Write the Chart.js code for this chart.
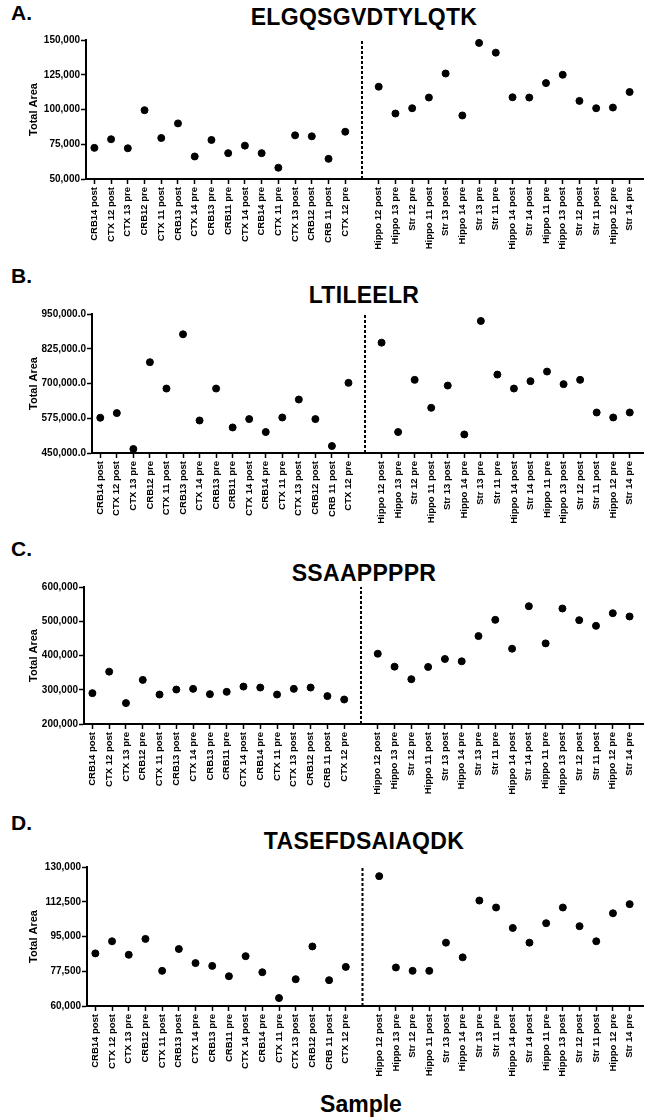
<!DOCTYPE html>
<html>
<head>
<meta charset="utf-8">
<script src="https://cdn.jsdelivr.net/npm/chart.js@4.4.0/dist/chart.umd.min.js"></script>
<style>
  body { margin: 0; background: #fff; font-family: "Liberation Sans", Arial, sans-serif; color: #000; }
  #page { position: relative; width: 649px; height: 1120px; overflow: hidden; background: #fff; }
  canvas { position: absolute; left: 0; }
  .lettre { position: absolute; left: 11px; font-size: 21px; line-height: 21px; font-weight: bold; }
  .titre { position: absolute; left: 0; width: 728px; text-align: center; font-size: 23px; line-height: 23px; font-weight: bold; letter-spacing: 0.3px; }
  .sample { position: absolute; left: 0; width: 722px; text-align: center; font-size: 23px; line-height: 23px; font-weight: bold; }
</style>
</head>
<body>
<div id="page">
  <div class="lettre" style="top:2px">A.</div>
  <div class="titre" style="top:6px">ELGQSGVDTYLQTK</div>
  <canvas id="chartA"></canvas>

  <div class="lettre" style="top:265px">B.</div>
  <div class="titre" style="top:284px">LTILEELR</div>
  <canvas id="chartB"></canvas>

  <div class="lettre" style="top:538px">C.</div>
  <div class="titre" style="top:562px">SSAAPPPPR</div>
  <canvas id="chartC"></canvas>

  <div class="lettre" style="top:812px">D.</div>
  <div class="titre" style="top:830px">TASEFDSAIAQDK</div>
  <canvas id="chartD"></canvas>

  <div class="sample" style="top:1093px">Sample</div>
</div>
<script>
// noms des échantillons (gauche / droite de la ligne pointillée)
const sampleLeft = ['CRB14 post', 'CTX 12 post', 'CTX 13 pre', 'CRB12 pre', 'CTX 11 post', 'CRB13 post', 'CTX 14 pre', 'CRB13 pre',
    'CRB11 pre', 'CTX 14 post', 'CRB14 pre', 'CTX 11 pre', 'CTX 13 post', 'CRB12 post', 'CRB 11 post', 'CTX 12 pre'];
const sampleRight = ['Hippo 12 post', 'Hippo 13 pre', 'Str 12 pre', 'Hippo 11 post', 'Str 13 post', 'Hippo 14 pre', 'Str 13 pre', 'Str 11 pre',
    'Hippo 14 post', 'Str 14 post', 'Hippo 11 pre', 'Hippo 13 post', 'Str 12 post', 'Str 11 post', 'Hippo 12 pre', 'Str 14 pre'];

// Total Area par peptide, dans l'ordre sampleLeft puis sampleRight
const elgqsgvdtylqtk = [72400, 78600, 72100, 99500, 79500, 90000, 66200, 78100, 68600, 74000, 68600, 58100, 81400, 80700, 64500, 84000,
    116400, 97100, 100900, 108600, 125900, 95700, 147900, 140900, 108800, 108600, 119000, 125000, 106200, 100900, 101400, 112600];
const ltileelr = [576700, 593600, 464400, 776600, 681900, 877000, 567000, 681900, 541900, 572000, 525400, 577800, 642400, 572000, 475100, 702300,
    847000, 525400, 713100, 612600, 692600, 516800, 924900, 732100, 681900, 708400, 742900, 697700, 713100, 595700, 577800, 595700];
const ssaappppr = [290100, 352900, 261000, 328800, 286000, 300600, 302600, 287200, 293900, 309300, 306400, 286000, 302600, 306400, 281400, 271500,
    405200, 367400, 330800, 366600, 389800, 383100, 456700, 504100, 419800, 543900, 435400, 537200, 503200, 486600, 523500, 513900];
const tasefdsaiaqdk = [86500, 92600, 85800, 93800, 77700, 88700, 81600, 80200, 75000, 85100, 77000, 64000, 73500, 90000, 73000, 79700,
    125400, 79400, 77700, 77700, 91900, 84500, 113100, 109600, 99300, 91900, 101700, 109600, 100200, 92600, 106700, 111300];

// graduations de l'axe Y : [min, max, pas, décimales]
const yTicksA = [50000, 150000, 25000, 0];
const yTicksB = [450000, 950000, 125000, 1];
const yTicksC = [200000, 600000, 100000, 0];
const yTicksD = [60000, 130000, 17500, 0];

const allSamples = [...sampleLeft, '', ...sampleRight];
const gapIndex = sampleLeft.length;
const fontFamily = '"Liberation Sans", Arial, sans-serif';

function toPoints(values) {
    return values.map((v, i) => ({ x: i < gapIndex ? i : i + 1, y: v }));
}

function createPanel(id, values, yTicks, box) {
    const [yMin, yMax, yStep, decimals] = yTicks;
    const padTop = 12;
    const xAxisH = 80;
    const canvas = document.getElementById(id);
    canvas.width = 649;
    canvas.height = padTop + (box.bottom - box.top) + xAxisH;
    canvas.style.top = (box.top - padTop) + 'px';

    new Chart(canvas.getContext('2d'), {
        type: 'scatter',
        data: {
            datasets: [{
                data: toPoints(values),
                pointRadius: 3.5,
                pointHoverRadius: 3.5,
                backgroundColor: '#000',
                borderColor: '#000',
                clip: false,
            }, {
                // séparation pointillée
                type: 'line',
                data: [{ x: gapIndex, y: yMin }, { x: gapIndex, y: yMax }],
                borderColor: '#000',
                borderWidth: 2,
                borderDash: [3, 2],
                pointRadius: 0,
                clip: false,
            }],
        },
        options: {
            responsive: false,
            animation: false,
            devicePixelRatio: 1,
            layout: { padding: { top: padTop, right: 649 - box.right, left: 0, bottom: 0 } },
            plugins: { legend: { display: false }, tooltip: { enabled: false } },
            scales: {
                x: {
                    type: 'linear',
                    min: -0.5,
                    max: 32.8,
                    afterBuildTicks: (scale) => {
                        scale.ticks = allSamples.map((n, i) => ({ value: i })).filter(t => t.value !== gapIndex);
                    },
                    afterFit: (scale) => { scale.height = xAxisH; },
                    ticks: {
                        autoSkip: false,
                        minRotation: 90,
                        maxRotation: 90,
                        padding: 3,
                        color: '#000',
                        font: { family: fontFamily, size: 9.5, weight: 'bold' },
                        callback: (v) => allSamples[v],
                    },
                    grid: { drawOnChartArea: false, tickLength: 5, tickWidth: 1.5, tickColor: '#000' },
                    border: { color: '#000', width: 2 },
                },
                y: {
                    min: yMin,
                    max: yMax,
                    afterBuildTicks: (scale) => {
                        const ticks = [];
                        for (let v = yMin; v <= yMax; v += yStep) ticks.push({ value: v });
                        scale.ticks = ticks;
                    },
                    afterFit: (scale) => { scale.width = box.left; },
                    ticks: {
                        padding: 1,
                        color: '#000',
                        font: { family: fontFamily, size: 10, weight: 'bold' },
                        callback: (v) => v.toLocaleString('en-US', { minimumFractionDigits: decimals, maximumFractionDigits: decimals }),
                    },
                    grid: { drawOnChartArea: false, tickLength: 5, tickWidth: 1.5, tickColor: '#000' },
                    border: { color: '#000', width: 2 },
                    title: {
                        display: true,
                        text: 'Total Area',
                        color: '#000',
                        font: { family: fontFamily, size: 11, weight: 'bold' },
                        padding: { top: 27, bottom: 0 },
                    },
                },
            },
        },
    });
}

createPanel('chartA', elgqsgvdtylqtk, yTicksA, { left: 86, right: 643, top: 40, bottom: 179 });
createPanel('chartB', ltileelr, yTicksB, { left: 92, right: 643, top: 314, bottom: 453 });
createPanel('chartC', ssaappppr, yTicksC, { left: 84, right: 643, top: 587, bottom: 724 });
createPanel('chartD', tasefdsaiaqdk, yTicksD, { left: 87, right: 643, top: 867, bottom: 1006 });
</script>
</body>
</html>
